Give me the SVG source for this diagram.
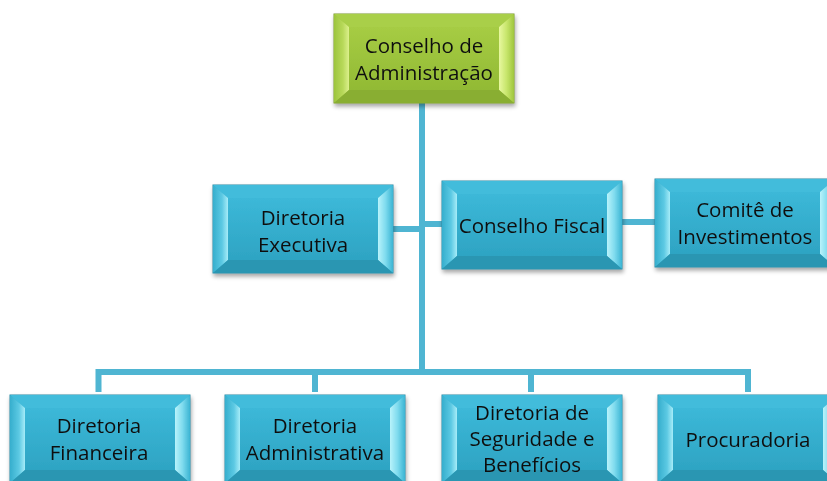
<svg xmlns="http://www.w3.org/2000/svg" width="827" height="481" viewBox="0 0 827 481">
<defs>
<filter id="sh" x="-10%" y="-10%" width="125%" height="130%">
<feDropShadow dx="1" dy="3" stdDeviation="2" flood-color="#000" flood-opacity="0.35"/>
</filter>
<linearGradient id="bFace" x1="0" y1="0" x2="0" y2="1">
<stop offset="0" stop-color="#3cb8d8"/><stop offset="1" stop-color="#2ea4c3"/>
</linearGradient>
<linearGradient id="bLeft" x1="0" y1="0" x2="1" y2="0">
<stop offset="0" stop-color="#35aecd"/><stop offset="0.6" stop-color="#5cc9e3"/><stop offset="1" stop-color="#a6ecf8"/>
</linearGradient>
<linearGradient id="bRight" x1="0" y1="0" x2="1" y2="0">
<stop offset="0" stop-color="#b8f3fb"/><stop offset="0.5" stop-color="#7fdbee"/><stop offset="1" stop-color="#3ab4d3"/>
</linearGradient>
<linearGradient id="gFace" x1="0" y1="0" x2="0" y2="1">
<stop offset="0" stop-color="#a6cc44"/><stop offset="1" stop-color="#92ba34"/>
</linearGradient>
<linearGradient id="gLeft" x1="0" y1="0" x2="1" y2="0">
<stop offset="0" stop-color="#9cc43c"/><stop offset="0.6" stop-color="#b8d95a"/><stop offset="1" stop-color="#dcf08c"/>
</linearGradient>
<linearGradient id="gRight" x1="0" y1="0" x2="1" y2="0">
<stop offset="0" stop-color="#e8f8a0"/><stop offset="0.5" stop-color="#c8e66c"/><stop offset="1" stop-color="#9fc63e"/>
</linearGradient>
<g id="blueBox">
<rect x="0" y="0" width="180" height="88" fill="#36b0cf" stroke="#2a8aa3" stroke-width="1"/>
<polygon points="0,0 180,0 165,13 15,13" fill="#42bcdb"/>
<polygon points="0,0 15,13 15,75 0,88" fill="url(#bLeft)"/>
<polygon points="180,0 165,13 165,75 180,88" fill="url(#bRight)"/>
<polygon points="0,88 15,75 165,75 180,88" fill="#2a96b2"/>
<rect x="15" y="13" width="150" height="62" fill="url(#bFace)"/>
</g>
<g id="greenBox">
<rect x="0" y="0" width="180" height="89" fill="#9cc43c" stroke="#7a9a2c" stroke-width="1"/>
<polygon points="0,0 180,0 165,13 15,13" fill="#a9cf48"/>
<polygon points="0,0 15,13 15,76 0,89" fill="url(#gLeft)"/>
<polygon points="180,0 165,13 165,76 180,89" fill="url(#gRight)"/>
<polygon points="0,89 15,76 165,76 180,89" fill="#89ae30"/>
<rect x="15" y="13" width="150" height="63" fill="url(#gFace)"/>
</g>
</defs>
<style>
.t{font-family:"Open Sans","Noto Sans","Liberation Sans",sans-serif;font-size:20.5px;fill:#111;text-anchor:middle}
.c{fill:none;stroke:#4fb5d2;stroke-width:6}
</style>
<rect width="827" height="481" fill="#fff"/>
<g id="connectors">
<line class="c" x1="422" y1="100" x2="422" y2="375"/>
<line class="c" x1="393" y1="229" x2="422" y2="229"/>
<line class="c" x1="422" y1="224" x2="442" y2="224"/>
<line class="c" x1="622" y1="222" x2="655" y2="222"/>
<polyline class="c" points="98.5,392 98.5,372 748,372 748,392"/>
<line class="c" x1="315" y1="372" x2="315" y2="392"/>
<line class="c" x1="531" y1="372" x2="531" y2="392"/>
</g>
<g id="n-conselho-adm" filter="url(#sh)">
<use href="#greenBox" x="334" y="14"/>
<text class="t" x="424" y="53">Conselho de</text>
<text class="t" x="424" y="80">Administração</text>
</g>
<g id="n-dir-executiva" filter="url(#sh)">
<use href="#blueBox" x="213" y="185"/>
<text class="t" x="303" y="225">Diretoria</text>
<text class="t" x="303" y="252">Executiva</text>
</g>
<g id="n-conselho-fiscal" filter="url(#sh)">
<use href="#blueBox" x="442" y="181"/>
<text class="t" x="532" y="233">Conselho Fiscal</text>
</g>
<g id="n-comite" filter="url(#sh)">
<use href="#blueBox" x="655" y="179"/>
<text class="t" x="745" y="217">Comitê de</text>
<text class="t" x="745" y="244">Investimentos</text>
</g>
<g id="n-dir-financeira" filter="url(#sh)">
<use href="#blueBox" x="10" y="395"/>
<text class="t" x="99" y="433">Diretoria</text>
<text class="t" x="99" y="460">Financeira</text>
</g>
<g id="n-dir-administrativa" filter="url(#sh)">
<use href="#blueBox" x="225" y="395"/>
<text class="t" x="315" y="433">Diretoria</text>
<text class="t" x="315" y="460">Administrativa</text>
</g>
<g id="n-dir-seguridade" filter="url(#sh)">
<use href="#blueBox" x="442" y="395"/>
<text class="t" x="532" y="420">Diretoria de</text>
<text class="t" x="532" y="446">Seguridade e</text>
<text class="t" x="532" y="472">Benefícios</text>
</g>
<g id="n-procuradoria" filter="url(#sh)">
<use href="#blueBox" x="658" y="395"/>
<text class="t" x="748" y="447">Procuradoria</text>
</g>
</svg>
